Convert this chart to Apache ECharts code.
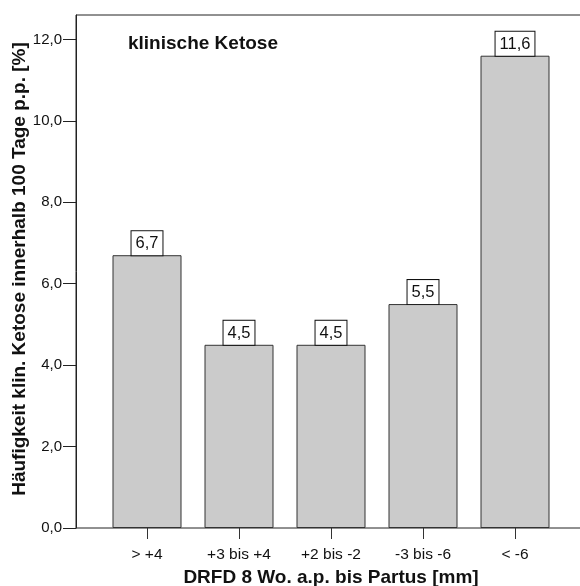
<!DOCTYPE html>
<html>
<head>
<meta charset="utf-8">
<script src="https://cdn.jsdelivr.net/npm/echarts@6/dist/echarts.min.js"></script>
<style>html,body{margin:0;padding:0;background:#fff}#c{width:580px;height:586px}</style>
</head>
<body>
<div id="c"></div>
<script>
var categories = ['> +4', '+3 bis +4', '+2 bis -2', '-3 bis -6', '< -6'];
var values = [6.7, 4.5, 4.5, 5.5, 11.6];
var yTicks = [0, 2, 4, 6, 8, 10, 12];
var yMax = 12.6;
var xTitle = 'DRFD 8 Wo. a.p. bis Partus [mm]';
var yTitle = 'Häufigkeit klin. Ketose innerhalb 100 Tage p.p. [%]';
var panelTitle = 'klinische Ketose';

var FONT = '"Liberation Sans", Arial, Helvetica, sans-serif';
function fmt(v) { return v.toFixed(1).replace('.', ','); }

var chart = echarts.init(document.getElementById('c'), null, {renderer: 'canvas'});
chart.setOption({
  animation: false,
  backgroundColor: '#fff',
  textStyle: {fontFamily: FONT},
  grid: [
    {left: 76, top: 15, right: -10, bottom: 58, show: true, borderColor: '#222', borderWidth: 1,
     backgroundColor: 'transparent', containLabel: false, outerBoundsMode: 'none'},
    {left: 101, top: 15, right: 19, bottom: 58, containLabel: false, outerBoundsMode: 'none'}
  ],
  xAxis: [
    {gridIndex: 0, type: 'value', min: 0, max: 1, show: false},
    {gridIndex: 1, type: 'category', data: categories, boundaryGap: true,
     axisLine: {show: false},
     axisTick: {show: true, alignWithLabel: true, length: 11, lineStyle: {color: '#333', width: 1}},
     axisLabel: {color: '#111', fontSize: 15.5, fontFamily: FONT, margin: 19},
     name: xTitle, nameLocation: 'middle', nameGap: 40,
     nameTextStyle: {color: '#111', fontSize: 19, fontWeight: 'bold', fontFamily: FONT}}
  ],
  yAxis: [
    {gridIndex: 0, type: 'value', min: 0, max: yMax,
     axisLine: {show: true, lineStyle: {color: '#222', width: 1}},
     axisTick: {show: true, length: 13, customValues: yTicks, lineStyle: {color: '#222', width: 1}},
     axisLabel: {show: true, customValues: yTicks, formatter: function (v) { return fmt(v); },
                 color: '#111', fontSize: 15, fontFamily: FONT, margin: 14},
     splitLine: {show: false}},
    {gridIndex: 1, type: 'value', min: 0, max: yMax, show: false, splitLine: {show: false}}
  ],
  graphic: [
    {type: 'text', left: 128, top: 34, style: {text: panelTitle, font: 'bold 19px ' + FONT, fill: '#111'}},
    {type: 'text', x: 20, y: 269, rotation: Math.PI / 2,
     style: {text: yTitle, font: 'bold 19px ' + FONT, fill: '#111', align: 'center', verticalAlign: 'middle'}}
  ],
  series: [{
    type: 'bar', xAxisIndex: 1, yAxisIndex: 1,
    data: values,
    barCategoryGap: '25%',
    itemStyle: {color: '#cbcbcb', borderColor: '#333', borderWidth: 1},
    label: {show: true, position: 'top', distance: 0,
            formatter: function (p) { return fmt(p.value); },
            color: '#111', fontSize: 16.5, fontFamily: FONT,
            backgroundColor: '#fff', borderColor: '#111', borderWidth: 1,
            padding: [4, 4, 3, 4]}
  }]
});
</script>
</body>
</html>
